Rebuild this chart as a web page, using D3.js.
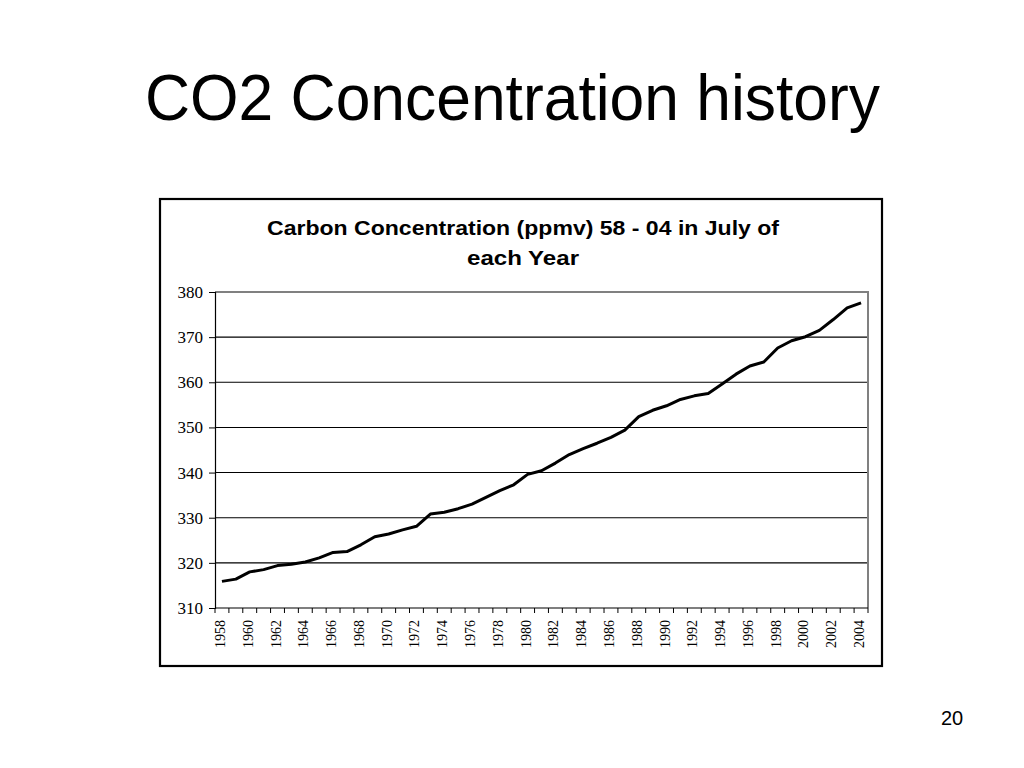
<!DOCTYPE html>
<html>
<head>
<meta charset="utf-8">
<script src="https://cdn.jsdelivr.net/npm/d3@7"></script>
<style>
html,body{margin:0;padding:0;background:#fff;}
svg{display:block;}
svg .ser, svg .ser text{font-family:'Liberation Serif','Times New Roman',Times,Tinos,'Noto Serif','DejaVu Serif',FreeSerif,serif !important;}
</style>
</head>
<body>
<svg id="c" width="1024" height="768"></svg>
<script>
const years = [1958,1959,1960,1961,1962,1963,1964,1965,1966,1967,1968,1969,1970,1971,1972,1973,1974,1975,1976,1977,1978,1979,1980,1981,1982,1983,1984,1985,1986,1987,1988,1989,1990,1991,1992,1993,1994,1995,1996,1997,1998,1999,2000,2001,2002,2003,2004];
const co2 = [315.9,316.4,318.0,318.5,319.4,319.7,320.2,321.1,322.3,322.5,324.0,325.8,326.4,327.3,328.1,330.8,331.2,332.0,333.0,334.5,336.0,337.3,339.6,340.4,342.1,344.0,345.3,346.5,347.8,349.4,352.4,353.8,354.8,356.2,357.0,357.5,359.6,361.8,363.6,364.5,367.6,369.2,370.1,371.5,373.9,376.5,377.6];
const yTicks = [310,320,330,340,350,360,370,380];
const slideTitle = "CO2 Concentration history";
const chartTitle = ["Carbon Concentration (ppmv) 58 - 04 in July of", "each Year"];
const pageNum = "20";

const SANS = "'Liberation Sans', Arial, sans-serif";

const svg = d3.select("#c");

// slide title
svg.append("text").attr("x",145).attr("y",120)
  .attr("font-family",SANS).attr("font-size",64)
  .attr("textLength",735).attr("lengthAdjust","spacingAndGlyphs")
  .text(slideTitle);

// chart box
svg.append("rect").attr("x",160).attr("y",199).attr("width",722).attr("height",467)
  .attr("fill","none").attr("stroke","#000").attr("stroke-width",2.2);

// chart title
svg.selectAll("text.ct").data(chartTitle).join("text").attr("class","ct")
  .attr("x",523).attr("y",(d,i)=>235+i*30).attr("text-anchor","middle")
  .attr("font-family",SANS).attr("font-weight","bold").attr("font-size",21)
  .attr("textLength",(d,i)=>i===0?512:112).attr("lengthAdjust","spacingAndGlyphs")
  .text(d=>d);

const L=215, R=868, T=292, B=608;
const x = d3.scaleBand().domain(years).range([L,R]);
const y = d3.scaleLinear().domain([310,380]).range([B,T]);

// gridlines
svg.append("g").selectAll("line").data(yTicks.filter(v=>v>310 && v<380)).join("line")
  .attr("x1",L).attr("x2",R).attr("y1",d=>y(d)).attr("y2",d=>y(d))
  .attr("stroke","#000").attr("stroke-width",1.1);

// plot border top and right (gray)
svg.append("path").attr("d",`M${L},${y(380)}H${R}V${B}`).attr("fill","none")
  .attr("stroke","#808080").attr("stroke-width",2);

// y axis
const ya = svg.append("g").attr("transform",`translate(${L},0)`)
  .call(d3.axisLeft(y).tickValues(yTicks).tickSize(6).tickPadding(6).tickFormat(d3.format("d")));
ya.attr("class","ser").attr("font-family",null).attr("font-size",17);
ya.select(".domain").attr("stroke","#000").attr("stroke-width",1.2);
ya.selectAll(".tick line").attr("stroke","#000");
ya.selectAll("text").attr("fill","#000").style("font-size","17px");

// x axis: ticks between categories
const xa = svg.append("g").attr("class","ser").attr("transform",`translate(0,${B})`)
  .attr("font-size",14);
xa.append("line").attr("x1",L).attr("x2",R).attr("stroke","#000").attr("stroke-width",1.2);
const bounds = years.map(d=>x(d)).concat([R]);
xa.selectAll("line.tk").data(bounds).join("line").attr("class","tk")
  .attr("x1",d=>d).attr("x2",d=>d).attr("y1",0).attr("y2",5).attr("stroke","#000");
xa.selectAll("text").data(years.filter((d,i)=>i%2===0)).join("text")
  .attr("transform",d=>`translate(${x(d)+x.bandwidth()/2+3},12) rotate(-90)`)
  .attr("text-anchor","end").style("font-size","14px")
  .text(d=>d);

// line
const line = d3.line().x((d,i)=>x(years[i])+x.bandwidth()/2).y(d=>y(d));
svg.append("path").datum(co2).attr("d",line).attr("fill","none")
  .attr("stroke","#000").attr("stroke-width",3).attr("stroke-linejoin","round");

// page number
svg.append("text").attr("x",952).attr("y",725).attr("text-anchor","middle")
  .attr("font-family",SANS).attr("font-size",20).text(pageNum);
</script>
</body>
</html>
